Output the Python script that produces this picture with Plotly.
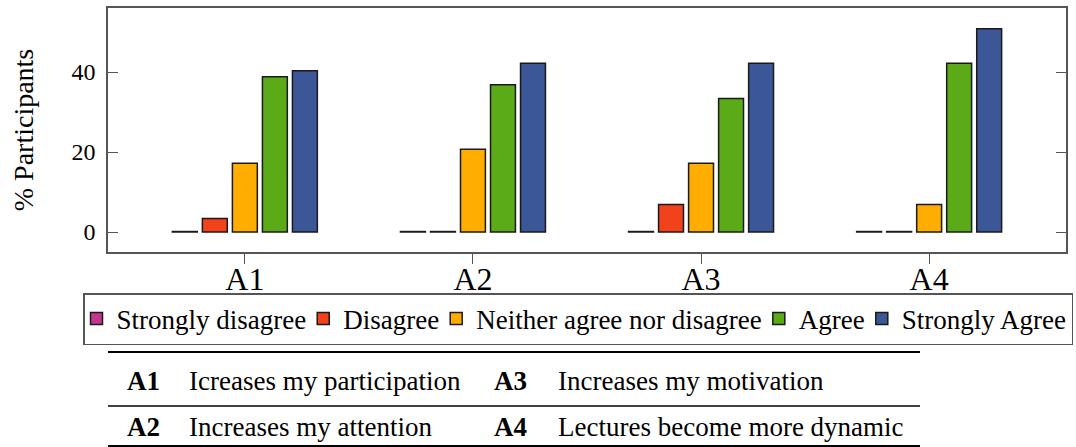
import plotly.graph_objects as go

# ---- data ----
questions = ["A1", "A2", "A3", "A4"]
series_names = ["Strongly disagree", "Disagree", "Neither agree nor disagree", "Agree", "Strongly Agree"]
strongly_disagree = [0.0, 0.0, 0.0, 0.0]
disagree = [3.4, 0.0, 6.9, 0.0]
neither = [17.2, 20.7, 17.2, 6.9]
agree = [38.8, 36.8, 33.4, 42.2]
strongly_agree = [40.3, 42.2, 42.2, 50.8]
y_ticks = [0, 20, 40]

table_codes_left = ["A1", "A2"]
table_desc_left = ["Icreases my participation", "Increases my attention"]
table_codes_right = ["A3", "A4"]
table_desc_right = ["Increases my motivation", "Lectures become more dynamic"]

colors = ["#C4378F", "#F2421C", "#FFAD00", "#5BAA18", "#3B5797"]
series_values = [strongly_disagree, disagree, neither, agree, strongly_agree]

SERIF = "Liberation Serif, serif"

fig = go.Figure()
for name, vals, col in zip(series_names, series_values, colors):
    # zero-valued bars are drawn as a flat outlined bar (tiny display floor)
    disp = [v if v > 0 else 0.12 for v in vals]
    fig.add_trace(go.Bar(
        x=questions, y=disp, name=name, customdata=vals,
        hovertemplate="%{x}: %{customdata}%<extra>" + name + "</extra>",
        marker=dict(color=col, line=dict(color="#1a1a1a", width=1.5)),
    ))

W, H = 1076, 447
ml, mr, mt, mb = 108, 10, 8, 195
pw = W - ml - mr
ph = H - mt - mb

def px_x(x):
    return (x - ml) / pw

def px_y(y):
    return (H - mb - y) / ph

fig.update_layout(
    width=W, height=H,
    margin=dict(l=ml, r=mr, t=mt, b=mb, pad=0, autoexpand=False),
    paper_bgcolor="white", plot_bgcolor="white",
    barmode="group", bargap=0.342, bargroupgap=0.17,
    font=dict(family=SERIF, color="black"),
    showlegend=True,
    legend=dict(
        orientation="h", x=px_x(83), y=px_y(293), xanchor="left", yanchor="top",
        bordercolor="#555555", borderwidth=1.5, bgcolor="white",
        font=dict(family=SERIF, size=27, color="black"),
        itemwidth=30, indentation=-8, tracegroupgap=0,
    ),
    xaxis=dict(
        range=[-0.6, 3.6], showgrid=False, zeroline=False,
        showline=True, linecolor="#555555", linewidth=1.5, mirror=True,
        ticks="outside", ticklen=10, tickwidth=1, tickcolor="#555555",
        ticklabelstandoff=-12,
        tickfont=dict(family=SERIF, size=32, color="black"),
    ),
    yaxis=dict(
        range=[-5, 56], showgrid=False, zeroline=False,
        showline=True, linecolor="#555555", linewidth=1.5, mirror="ticks",
        ticks="inside", ticklen=10, tickwidth=1, tickcolor="#555555",
        tickvals=y_ticks, ticklabelstandoff=6,
        tickfont=dict(family=SERIF, size=24, color="black"),
        title=dict(text="% Participants", font=dict(family=SERIF, size=28, color="black"), standoff=30),
    ),
)

# ---- table below the chart ----
x_left, x_right = px_x(108), px_x(920)
line_rows = [(352, 2.2), (406, 1.3), (446, 2.2)]
for ypx, lw in line_rows:
    fig.add_shape(type="line", xref="paper", yref="paper",
                  x0=x_left, x1=x_right, y0=px_y(ypx), y1=px_y(ypx),
                  line=dict(color="black", width=lw))

row_y = [381, 427]
for i in range(2):
    for code, desc, xc, xd in [
        (table_codes_left[i], table_desc_left[i], 125, 187),
        (table_codes_right[i], table_desc_right[i], 492, 556),
    ]:
        fig.add_annotation(xref="paper", yref="paper", x=px_x(xc), y=px_y(row_y[i]),
                           xanchor="left", yanchor="middle", showarrow=False,
                           text="<b>" + code + "</b>", font=dict(family=SERIF, size=27, color="black"))
        fig.add_annotation(xref="paper", yref="paper", x=px_x(xd), y=px_y(row_y[i]),
                           xanchor="left", yanchor="middle", showarrow=False,
                           text=desc, font=dict(family=SERIF, size=27, color="black"))

fig.write_html("out.html", config={"displayModeBar": False},
               post_script="document.body.style.margin='0';")
